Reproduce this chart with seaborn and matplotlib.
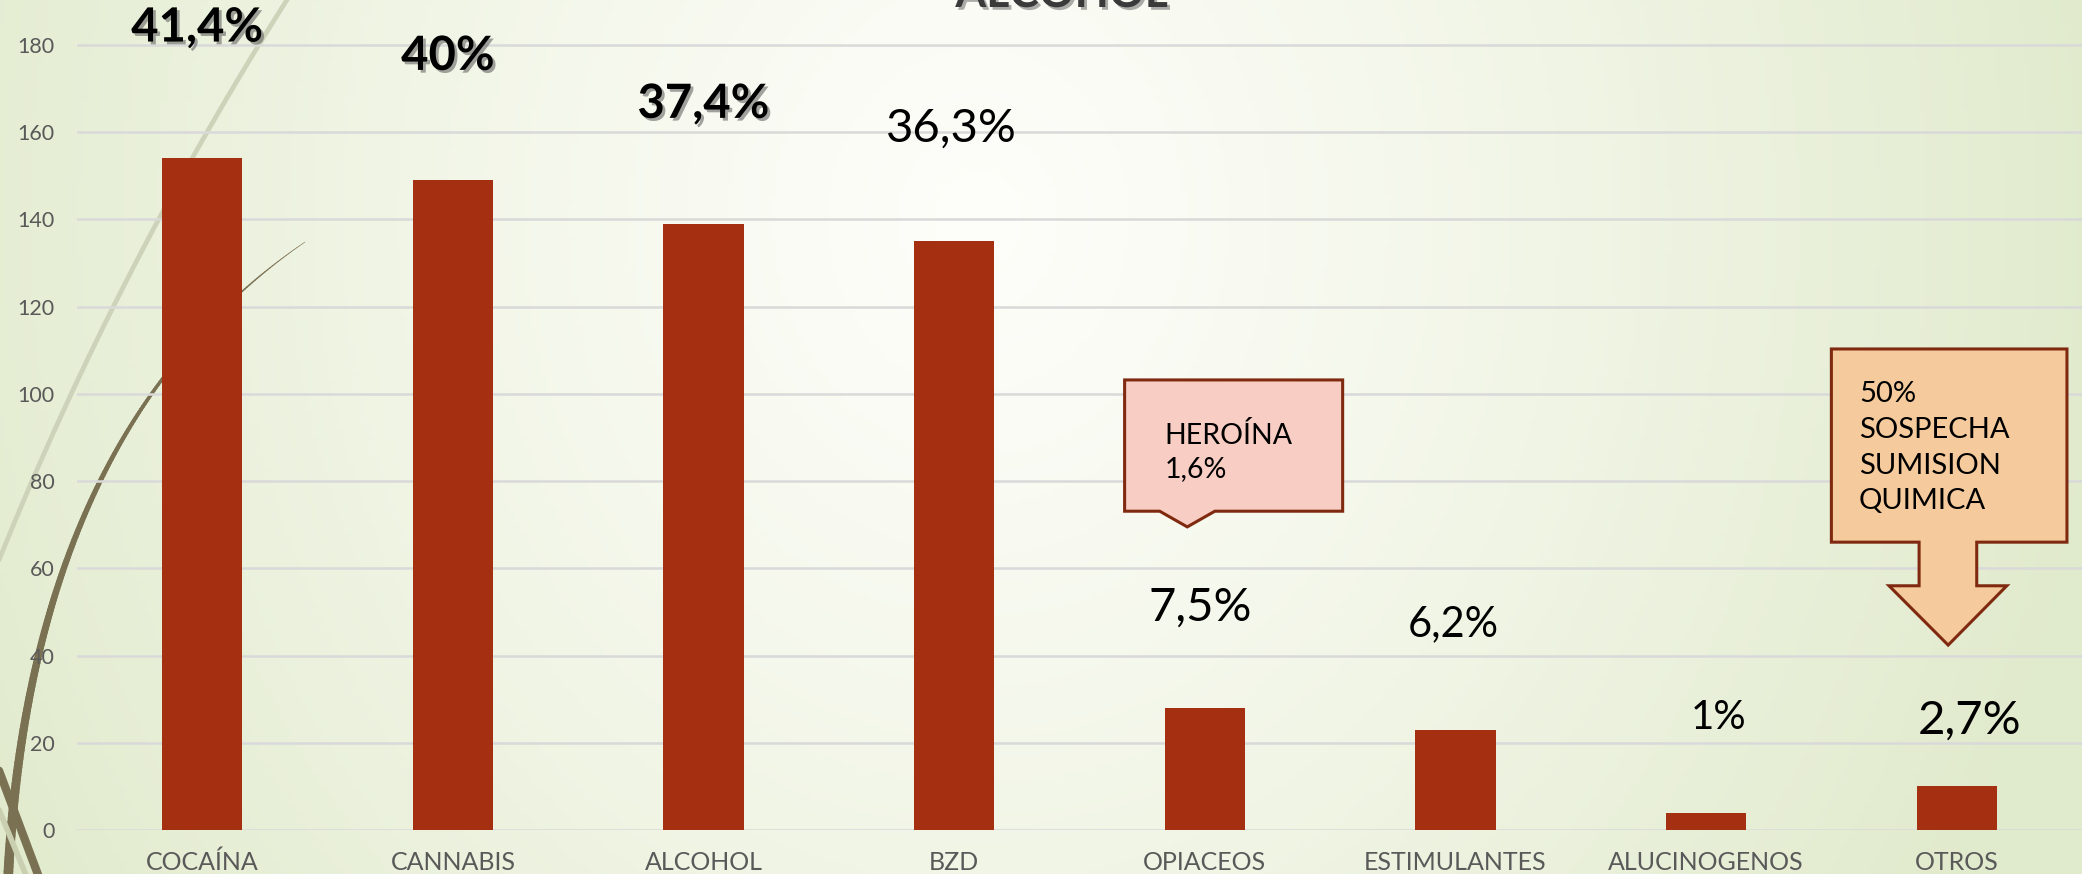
import matplotlib
matplotlib.use("Agg")
import matplotlib.pyplot as plt
import matplotlib.patheffects as pe
from matplotlib.patches import Polygon
from matplotlib.collections import LineCollection
import numpy as np
import seaborn as sns

# data
categories = ["COCAÍNA", "CANNABIS", "ALCOHOL", "BZD", "OPIACEOS",
              "ESTIMULANTES", "ALUCINOGENOS", "OTROS"]
counts = [154, 149, 139, 135, 28, 23, 4, 10]
pct_labels = ["41,4%", "40%", "37,4%", "36,3%", "7,5%", "6,2%", "1%", "2,7%"]
y_ticks = list(range(0, 181, 20))

# label placement (data units) and styles
label_y = [184, 177.5, 166.5, 160.7, 50.9, 47.2, 25.9, 25.0]
label_dx = [-0.02, -0.02, 0.0, -0.01, -0.02, -0.01, 0.05, 0.05]
label_bold = [True, True, True, False, False, False, False, False]
label_size = [34, 34, 34, 34, 34, 30, 29, 34]

BAR = "#A52F11"
EDGE = "#7F2A10"
W, H = 2082, 874

sns.set_theme(style="white")
plt.rcParams["font.family"] = ["Lato", "DejaVu Sans"]

fig = plt.figure(figsize=(W / 100, H / 100), dpi=100)

# slide background: pale green at the sides, near white in the middle
bg = fig.add_axes([0, 0, 1, 1], zorder=0)
xx, yy = np.meshgrid(np.linspace(0, 1, 400), np.linspace(0, 1, 200))
d = np.sqrt(((xx - 0.47) / 0.55) ** 2 + ((yy - 0.75) / 1.5) ** 2)
d = np.clip(d, 0, 1) ** 1.2
c_in = np.array([0.995, 0.995, 0.98])
c_out = np.array([0.88, 0.918, 0.80])
img = c_in[None, None, :] * (1 - d[..., None]) + c_out[None, None, :] * d[..., None]
bg.imshow(img, extent=[0, 1, 0, 1], aspect="auto", origin="lower")
bg.set_xlim(0, 1)
bg.set_ylim(0, 1)
bg.axis("off")

# decorative curves on the left of the slide (pixel coords, y down)
def bez(p0, p1, p2, n=200):
    t = np.linspace(0, 1, n)[:, None]
    return (1 - t) ** 2 * np.array(p0) + 2 * (1 - t) * t * np.array(p1) + t ** 2 * np.array(p2)

def to_fig(pts):
    return np.column_stack([pts[:, 0] / W, 1 - pts[:, 1] / H])

arc = to_fig(bez((290, -5), (115, 270), (-5, 570)))
bg.plot(arc[:, 0], arc[:, 1], color="#CDD3B9", lw=3.4, solid_capstyle="round")

dark = to_fig(bez((305, 242), (30, 430), (8, 880)))
segs = np.stack([dark[:-1], dark[1:]], axis=1)
widths = np.linspace(0.4, 7.0, len(segs))
bg.add_collection(LineCollection(segs, linewidths=widths, colors="#7A7052", capstyle="round"))
for p0, p1, lw, col in [((-5, 760), (40, 880), 6, "#7A7052"),
                        ((-5, 800), (28, 880), 4, "#C9CFB0")]:
    s = to_fig(np.array([p0, p1], dtype=float))
    bg.plot(s[:, 0], s[:, 1], color=col, lw=lw)

# title of the slide, cut off by the top edge as in the slide
fig.text(1062 / W, 1 - 7 / H, "ALCOHOL", ha="center", va="baseline", fontsize=32,
         fontweight="bold", color="#3A3A3A",
         path_effects=[pe.withSimplePatchShadow(offset=(2, -2), shadow_rgbFace="#777777", alpha=0.6)])

# chart
ax = fig.add_axes([77 / W, 44 / H, (W - 77) / W, 830 / H], zorder=1)
ax.patch.set_alpha(0)
sns.barplot(x=categories, y=counts, color=BAR, saturation=1, width=0.32, ax=ax,
            linewidth=0, zorder=3)
ax.set_xlim(-0.5, 7.5)
ax.set_ylim(0, 180 * 830 / 785)
ax.set_yticks(y_ticks)
ax.yaxis.grid(True, color="#D9D9D9", lw=1.8, zorder=0)
ax.xaxis.grid(False)
for s in ax.spines.values():
    s.set_visible(False)
ax.tick_params(axis="y", length=0, pad=16, labelsize=15.5, labelcolor="#595959")
ax.tick_params(axis="x", length=0, pad=15, labelsize=18, labelcolor="#595959")
ax.set_xlabel("")
ax.set_ylabel("")

for i, txt in enumerate(pct_labels):
    kw = {}
    if label_bold[i]:
        kw["fontweight"] = "bold"
        kw["path_effects"] = [pe.withSimplePatchShadow(offset=(2, -2), shadow_rgbFace="#666666", alpha=0.6)]
    ax.text(i + label_dx[i], label_y[i], txt, ha="center", va="center",
            fontsize=label_size[i], color="black", zorder=5, **kw)

# HEROÍNA callout (rectangle with a small pointer), data units
hero = [(3.68, 103.2), (4.55, 103.2), (4.55, 73.1), (4.04, 73.1), (3.93, 69.5),
        (3.82, 73.1), (3.68, 73.1)]
ax.add_patch(Polygon(hero, closed=True, fc="#F8CDC3", ec=EDGE, lw=2.2, zorder=4, clip_on=False))
ax.text(3.84, 93.5, "HEROÍNA\n1,6%", ha="left", va="top", fontsize=20.5,
        linespacing=1.32, color="black", zorder=6)

# down-arrow callout over OTROS
arrow = [(6.50, 110.3), (7.44, 110.3), (7.44, 66.0), (7.08, 66.0), (7.08, 56.0),
         (7.20, 56.0), (6.966, 42.4), (6.73, 56.0), (6.85, 56.0), (6.85, 66.0),
         (6.50, 66.0)]
ax.add_patch(Polygon(arrow, closed=True, fc="#F5CB9D", ec=EDGE, lw=2.2, zorder=4, clip_on=False))
ax.text(6.61, 103.0, "50%\nSOSPECHA\nSUMISION\nQUIMICA", ha="left", va="top",
        fontsize=21, linespacing=1.47, color="black", zorder=6)

fig.savefig("out.png", dpi=100)
